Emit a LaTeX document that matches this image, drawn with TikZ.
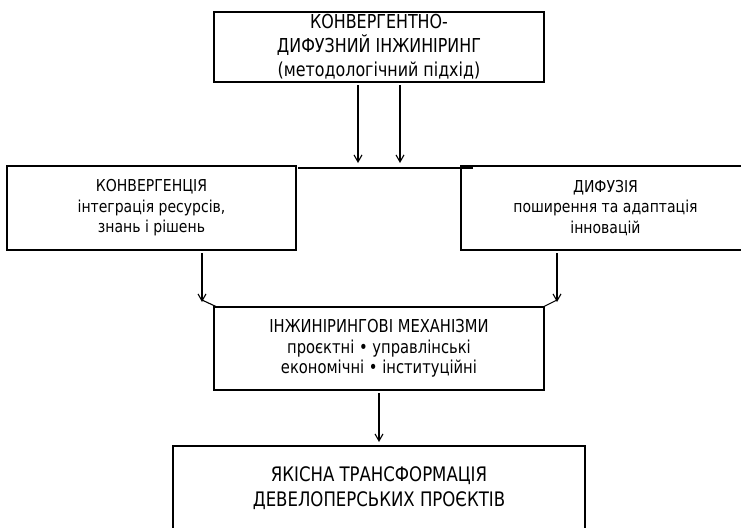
\documentclass[tikz,border=0pt]{standalone}
\usepackage{fontspec}
\setmainfont{DejaVu Sans Condensed}
\newfontfamily\narrowfont[FakeStretch=0.92]{DejaVu Sans Condensed}
\newfontfamily\sidefont[FakeStretch=0.95]{DejaVu Sans Condensed}
\usetikzlibrary{arrows.meta,calc}
\begin{document}
\begin{tikzpicture}[x=1pt,y=-1pt,
  box/.style={draw,line width=1.2pt,rectangle,align=center,inner sep=0pt,outer sep=0pt},
  big/.style={font=\narrowfont\fontsize{19.2}{24}\selectfont},
  side/.style={font=\sidefont\fontsize{16.4}{20.5}\selectfont},
  mid/.style={font=\narrowfont\fontsize{17.8}{20.3}\selectfont},
  low/.style={font=\narrowfont\fontsize{20}{24.5}\selectfont},
  arr/.style={line width=1.1pt,-{Straight Barb[length=7pt,width=8pt,line width=1.1pt]}},
  link/.style={line width=1.1pt}]
\useasboundingbox (0,0) rectangle (741,527);
\node[box,big,minimum width=330pt,minimum height=70pt] (top) at (379,47)
  {КОНВЕРГЕНТНО-\\ДИФУЗНИЙ ІНЖИНІРИНГ\\(методологічний підхід)};
\node[box,side,minimum width=289pt,minimum height=84pt] (conv) at (151.5,208)
  {КОНВЕРГЕНЦІЯ\\інтеграція ресурсів,\\знань і рішень};
\node[box,side,minimum width=289pt,minimum height=84pt] (dif) at (605.5,208)
  {ДИФУЗІЯ\\поширення та адаптація\\інновацій};
\node[box,mid,minimum width=330pt,minimum height=83pt] (mech) at (379,348.5)
  {ІНЖИНІРИНГОВІ МЕХАНІЗМИ\\проєктні • управлінські\\економічні • інституційні};
\node[box,low,minimum width=412pt,minimum height=84pt] (res) at (379,488)
  {ЯКІСНА ТРАНСФОРМАЦІЯ\\ДЕВЕЛОПЕРСЬКИХ ПРОЄКТІВ};
% bar between the two side boxes
\coordinate (barL) at ($(conv.north east)+(2,2)$);
\coordinate (barR) at ($(dif.north west)+(12,2)$);
\draw[line width=2.2pt] (barL) -- (barR);
% arrows from top box
\draw[arr] ([xshift=-21pt,yshift=-3pt]top.south) -- ([xshift=-21pt]top.south |- 0,163);
\draw[arr] ([xshift=21pt,yshift=-3pt]top.south) -- ([xshift=21pt]top.south |- 0,163);
% arrows to mechanisms
\coordinate (tipL) at ($(conv.south west)+(195,52)$);
\coordinate (tipR) at ($(dif.south west)+(96,52)$);
\draw[arr] (conv.south west -| tipL) ++(0,3) -- (tipL);
\draw[link] ($(tipL)+(0,-2)$) -- ([xshift=3pt]mech.north west);
\draw[arr] (dif.south west -| tipR) ++(0,3) -- (tipR);
\draw[link] ($(tipR)+(0,-2)$) -- ([xshift=-1pt]mech.north east);
% arrow to result
\draw[arr] ([yshift=-3pt]mech.south) -- ([yshift=4pt]res.north);
\end{tikzpicture}
\end{document}
